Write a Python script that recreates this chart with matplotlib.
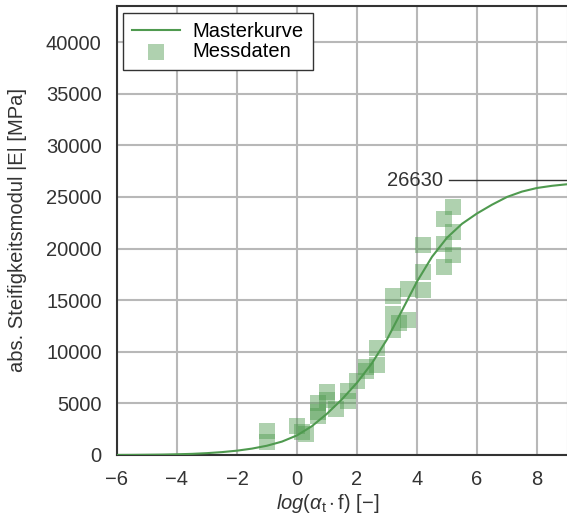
import matplotlib
matplotlib.use("Agg")
import matplotlib.pyplot as plt

plt.rcParams['font.family'] = ['Liberation Sans', 'DejaVu Sans']
plt.rcParams['mathtext.fontset'] = 'custom'
plt.rcParams['mathtext.rm'] = 'Liberation Sans'
plt.rcParams['mathtext.it'] = 'Liberation Sans:italic'

# Masterkurve
curve_x = [-6, -5.5, -5, -4.5, -4, -3.5, -3, -2.5, -2, -1.5, -1, -0.5, 0, 0.5, 1, 1.5,
           2, 2.5, 3, 3.5, 4, 4.5, 5, 5.5, 6, 6.5, 7, 7.5, 8, 8.5, 9]
curve_y = [5, 12, 25, 40, 70, 110, 180, 280, 420, 620, 900, 1300, 1900, 2800, 4000, 5400,
           7000, 8900, 11200, 14000, 16800, 19200, 21050, 22400, 23400, 24250, 25000,
           25520, 25870, 26080, 26230]

# Messdaten
meas_x = [-1, -1, 0, 0.15, 0.3, 0.7, 0.7, 0.7, 1.0, 1.0, 1.3, 1.7, 1.7, 2.0, 2.3, 2.3,
          2.65, 2.65, 3.2, 3.2, 3.2, 3.4, 3.7, 3.7, 4.2, 4.2, 4.2, 4.9, 4.9, 4.9,
          5.2, 5.2, 5.2]
meas_y = [2300, 1300, 2800, 2200, 2000, 5000, 4200, 3800, 6100, 5300, 4500, 5200, 6200,
          7200, 8500, 8100, 8700, 10400, 15400, 13700, 12100, 12800, 16100, 13100,
          20300, 17700, 16000, 22900, 20400, 18200, 24000, 21600, 19400]

E_inf = 26630
x_ticks = [-6, -4, -2, 0, 2, 4, 6, 8]
y_ticks = [0, 5000, 10000, 15000, 20000, 25000, 30000, 35000, 40000]

green = '#4f9a4f'
dark = '#333333'
fs = 14.5

fig = plt.figure(figsize=(5.67, 5.26), dpi=100)
ax = fig.add_axes([117 / 567, 1 - 455 / 526, 450 / 567, 449 / 526])

ax.plot(curve_x, curve_y, color=green, lw=1.5, label='Masterkurve', zorder=3)
ax.scatter(meas_x, meas_y, marker='s', s=125, color=green, alpha=0.45,
           linewidths=0, label='Messdaten', zorder=2)

ax.plot([5.05, 9], [E_inf, E_inf], color=dark, lw=1, zorder=3)
ax.text(4.85, E_inf, str(E_inf), ha='right', va='center', fontsize=fs, color=dark)

ax.set_xlim(-6, 9)
ax.set_ylim(0, 43500)
ax.set_xticks(x_ticks)
ax.set_yticks(y_ticks)
ax.set_xticklabels([str(t).replace('-', '\u2212') for t in x_ticks])
ax.grid(True, color='#b8b8b8', lw=1.5)
ax.set_axisbelow(True)
ax.tick_params(length=0, pad=11, labelsize=fs, colors=dark)

for side in ['left', 'bottom', 'top']:
    ax.spines[side].set_color(dark)
    ax.spines[side].set_linewidth(1.5)
ax.spines['right'].set_color('#b8b8b8')

ax.set_xlabel(r'$\mathit{log}$($\alpha_{\mathrm{t}}\cdot$f) [$-$]', fontsize=fs, color=dark)
ax.xaxis.set_label_coords(0.469, -0.082)
ax.set_ylabel('abs. Steifigkeitsmodul |E| [MPa]', fontsize=fs, color=dark)
ax.yaxis.set_label_coords(-0.2, 0.5)

leg = ax.legend(loc='upper left', bbox_to_anchor=(0.0133, 0.985), borderaxespad=0,
                fontsize=fs, fancybox=False, framealpha=1, edgecolor=dark,
                handlelength=2.4, labelspacing=0.05, borderpad=0.45, handletextpad=0.6)
leg.get_frame().set_linewidth(1)

fig.savefig('out.png', dpi=100)
